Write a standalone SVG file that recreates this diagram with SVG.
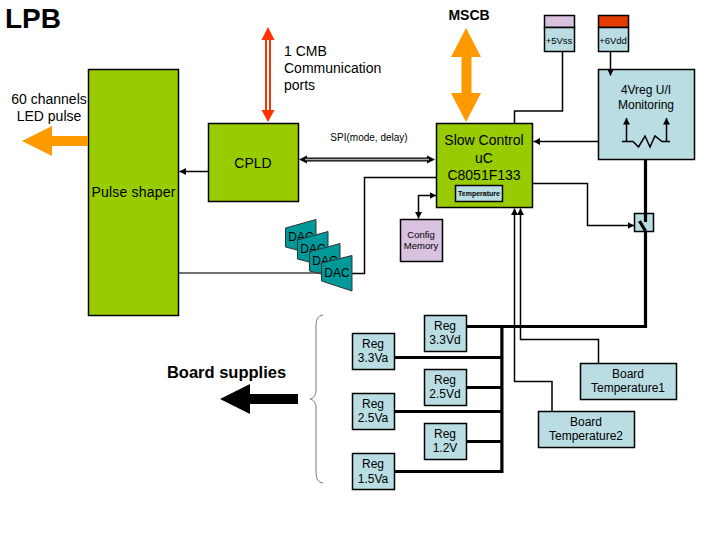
<svg xmlns="http://www.w3.org/2000/svg" width="716" height="534" viewBox="0 0 716 534">
<style>
text{font-family:"Liberation Sans",Arial,sans-serif;font-size:14px;fill:#000;text-anchor:middle}
.green{fill:#99cc00;stroke:#000;stroke-width:1.5}
.blue{fill:#b9dde3;stroke:#000;stroke-width:1.5}
.lilac{fill:#d9c1e0;stroke:#000;stroke-width:1.5}
.dac{fill:#009999;stroke:#333;stroke-width:1}
.w{fill:none;stroke:#000;stroke-width:1.5}
.t{fill:none;stroke:#000;stroke-width:3.2}
.orange{fill:#ff9900}
.head{fill:#000}
.dl{font-size:12px}
.s{font-size:12px}
.m{font-size:9.500px}
</style>
<defs>
<marker id="ah" markerUnits="userSpaceOnUse" markerWidth="8" markerHeight="8" refX="6.500" refY="3.500" orient="auto-start-reverse"><path class="head" d="M0 0L6.500 3.500L0 7z"/></marker>
</defs>
<g id="title"><text x="33" y="28" style="font-size:28px;font-weight:bold">LPB</text></g>
<g id="pulse-shaper"><rect class="green" x="88.500" y="69.500" width="90" height="246"/><text x="133.500" y="197" style="letter-spacing:.2px">Pulse shaper</text></g>
<g id="cpld"><rect class="green" x="208.500" y="123.500" width="90" height="78"/><text x="253" y="168">CPLD</text></g>
<g id="slow-control"><rect class="green" x="436.500" y="123.500" width="96" height="84"/><text x="484" y="145">Slow Control</text><text x="484" y="163">uC</text><text x="484" y="180">C8051F133</text></g>
<g id="temperature"><rect class="blue" x="455.500" y="185.500" width="47" height="16"/><text x="479" y="196" style="font-size:7px;font-weight:bold">Temperature</text></g>
<g id="supply-5v"><rect x="544.500" y="15.500" width="30" height="12" class="lilac"/><rect x="544.500" y="27.500" width="30" height="24" class="blue"/><text x="559" y="44" class="m">+5Vss</text></g>
<g id="supply-6v"><rect x="598.500" y="15.500" width="30" height="12" fill="#e33b00" stroke="#000" stroke-width="1.500"/><rect x="598.500" y="27.500" width="30" height="24" class="blue"/><text x="613" y="44" class="m">+6Vdd</text></g>
<g id="monitoring"><rect class="blue" x="598.500" y="69.500" width="96" height="90"/><text x="646" y="94" class="s">4Vreg U/I</text><text x="646" y="109" class="s">Monitoring</text>
<path class="w" d="M622 141.500H633L638.500 147L645 136L650 147L655 136L662 141.500H670"/>
<path class="w" d="M626.500 141V118" marker-end="url(#ah)"/>
<path class="w" d="M666.500 141V118" marker-end="url(#ah)"/></g>
<g id="switch"><rect class="blue" x="634.500" y="213.500" width="19" height="18"/></g>
<g id="dac-1"><path class="dac" d="M285.500 228L316 219.500V255L285.500 247z"/><text x="301" y="241" class="dl">DAC</text></g>
<g id="dac-2"><path class="dac" d="M297.500 240L328 231.500V267L297.500 259z"/><text x="313" y="253" class="dl">DAC</text></g>
<g id="dac-3"><path class="dac" d="M309.500 252L340 243.500V279L309.500 271z"/><text x="325" y="265" class="dl">DAC</text></g>
<g id="dac-4"><path class="dac" d="M321.500 263L352 255.500V291L321.500 281z"/><text x="337" y="277" class="dl">DAC</text></g>
<g id="config-memory"><rect class="lilac" x="400.500" y="219.500" width="42" height="42"/><text x="421" y="238" class="m">Config</text><text x="421" y="249" class="m">Memory</text></g>
<g id="reg-33d"><rect class="blue" x="424.500" y="315.500" width="42" height="36"/><text x="445" y="330" class="s">Reg</text><text x="445" y="344" class="s">3.3Vd</text></g>
<g id="reg-33a"><rect class="blue" x="352.500" y="333.500" width="42" height="36"/><text x="373" y="348" class="s">Reg</text><text x="373" y="362" class="s">3.3Va</text></g>
<g id="reg-25d"><rect class="blue" x="424.500" y="369.500" width="42" height="36"/><text x="445" y="384" class="s">Reg</text><text x="445" y="398" class="s">2.5Vd</text></g>
<g id="reg-25a"><rect class="blue" x="352.500" y="393.500" width="42" height="36"/><text x="373" y="408" class="s">Reg</text><text x="373" y="422" class="s">2.5Va</text></g>
<g id="reg-12"><rect class="blue" x="424.500" y="423.500" width="42" height="36"/><text x="445" y="438" class="s">Reg</text><text x="445" y="452" class="s">1.2V</text></g>
<g id="reg-15a"><rect class="blue" x="352.500" y="453.500" width="42" height="36"/><text x="373" y="468" class="s">Reg</text><text x="373" y="483" class="s">1.5Va</text></g>
<g id="board-temp-1"><rect class="blue" x="580.500" y="363.500" width="96" height="36"/><text x="628" y="378" class="s">Board</text><text x="628" y="392" class="s">Temperature1</text></g>
<g id="board-temp-2"><rect class="blue" x="538.500" y="411.500" width="96" height="36"/><text x="586" y="426" class="s">Board</text><text x="586" y="440" class="s">Temperature2</text></g>
<g id="connectors">
<path class="w" d="M562.500 51V111H514.500V123"/>
<path class="w" d="M610.500 51V75.500" marker-end="url(#ah)"/>
<path class="w" d="M598 141.500H533.500" marker-end="url(#ah)"/>
<path class="w" d="M533 183.500H587.500V225.500H634" marker-end="url(#ah)"/>
<path class="w" d="M208 171.500H179.500" marker-end="url(#ah)"/>
<path class="w" style="stroke:#444" d="M179 273H322"/>
<path class="w" d="M352 273.500H364.500V177.500H436"/>
<path class="w" d="M418.500 218.500V195.500H436" marker-start="url(#ah)" marker-end="url(#ah)"/>
<path class="w" d="M552 411V381.500H514.500V208.500" marker-end="url(#ah)"/>
<path class="w" d="M598.500 363V339.500H520.500V208.500" marker-end="url(#ah)"/>
<path class="t" d="M645.500 159V222M639.500 221L645.500 231M645.500 231V326.500H466"/>
<path class="t" d="M394 357.500H502M466 387.500H502M394 411.500H502M466 441.500H502M394 471.500H503.500M501.900 327V471"/>
<path d="M299 159.500L307 155.500V163.500zM435 159.500L427 155.500V163.500z"/>
<path d="M305 159.500H429" stroke="#000" stroke-width="4" fill="none"/>
<path d="M305 159.500H429" stroke="#aaa" stroke-width="1.500" fill="none"/>
<path d="M268 27L274.500 40H271V110H274.500L268 122L261.500 110H265V40H261.500z" fill="#ff3300"/>
<path d="M267 40H269V110H267z" fill="#fff"/>
<path class="orange" d="M466 28L481 57H471.500V93H481L466 122L451 93H461.500V57H451z"/>
<path class="orange" d="M22 141L52 126V136H88V146H52V156z"/>
<path d="M220 399L250 384V394H298V404H250V414z"/>
<path d="M323 315C317 316 316 320 316 328V390C316 395 314 398 310 399C314 400 316 403 316 408V470C316 478 317 482 323 483" fill="none" stroke="#777" stroke-width="1"/>
</g>
<g id="labels">
<text x="469" y="20" style="font-weight:bold">MSCB</text>
<text x="284" y="56" style="text-anchor:start">1 CMB</text><text x="284" y="73" style="text-anchor:start">Communication</text><text x="284" y="90" style="text-anchor:start">ports</text>
<text x="369" y="141" style="font-size:10px">SPI(mode, delay)</text>
<text x="49" y="104">60 channels</text><text x="49" y="121">LED pulse</text>
<text x="226.500" y="378" style="font-size:16.500px;font-weight:bold">Board supplies</text>
</g>
</svg>
